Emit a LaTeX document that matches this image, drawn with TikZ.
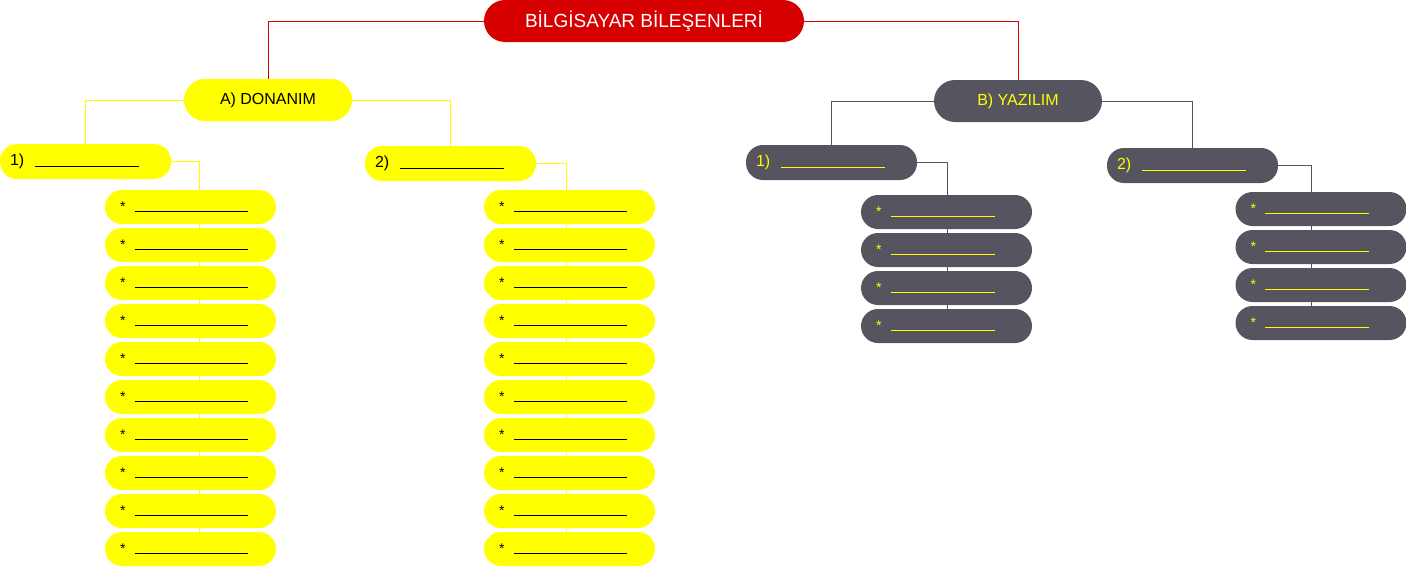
\documentclass[tikz,border=0pt]{standalone}
\usepackage{fontspec}
\setmainfont{Liberation Sans}
\usetikzlibrary{backgrounds}
\definecolor{kirmizi}{HTML}{D60000}
\definecolor{sari}{HTML}{FFFF00}
\definecolor{gri}{HTML}{55545F}
\newcommand{\bosluk}[1]{\rule[-1pt]{#1pt}{1pt}}

\begin{document}
\begin{tikzpicture}[x=1pt, y=-1pt]
	\tikzstyle{kutu}=[rounded corners=17pt, inner sep=0pt, font=\fontsize{16}{16}\selectfont]
	\tikzstyle{baslik}=[kutu, fill=kirmizi, text=white, minimum width=320pt, minimum height=42pt, rounded corners=21pt, font=\fontsize{19}{19}\selectfont]
	\tikzstyle{donanim}=[kutu, fill=sari, text=black]
	\tikzstyle{yazilim}=[kutu, fill=gri, text=sari]
	\tikzstyle{ana}=[minimum width=168pt, minimum height=42pt, rounded corners=21pt]
	\tikzstyle{alt}=[minimum width=171pt, minimum height=35pt, text width=151pt, align=left]
	\tikzstyle{madde}=[minimum width=171pt, minimum height=34pt, text width=141pt, align=left, font=\fontsize{14}{14}\selectfont]
	\useasboundingbox (0,0) rectangle (1406,568);

	% KOK
	\node[baslik] (kok) at (644,21) {BİLGİSAYAR BİLEŞENLERİ};

	% DONANIM
	\node[donanim,ana] (A) at (268,100) {A) DONANIM};
	\node[donanim,alt] (A1) at (85.5,161.5) {1)~~\bosluk{104}};
	\node[donanim,alt] (A2) at (450.5,163.5) {2)~~\bosluk{104}};
	\foreach \i in {1,...,10} {
		\node[donanim,madde] (A1m\i) at (190.5,{169+38*\i}) {*~~\bosluk{113}};
		\node[donanim,madde] (A2m\i) at (569.5,{169+38*\i}) {*~~\bosluk{113}};
	}

	% YAZILIM
	\node[yazilim,ana] (B) at (1018,101) {B) YAZILIM};
	\node[yazilim,alt] (B1) at (831.5,162.5) {1)~~\color{sari}\bosluk{104}};
	\node[yazilim,alt] (B2) at (1192.5,165.5) {2)~~\color{sari}\bosluk{104}};
	\foreach \i in {1,...,4} {
		\node[yazilim,madde] (B1m\i) at (946.5,{174+38*\i}) {*~~\color{sari}\bosluk{104}};
		\node[yazilim,madde] (B2m\i) at (1321,{171+38*\i}) {*~~\color{sari}\bosluk{104}};
	}

	% BAGLANTILAR
	\begin{scope}[on background layer, line width=3pt]
		\draw[kirmizi] (kok.west) -| (A.north);
		\draw[kirmizi] (kok.east) -| (B.north);
		\draw[sari] (A.west) -| (A1.north);
		\draw[sari] (A.east) -| (A2.north);
		\draw[sari] (A1.east) -| (A1m10.center -| 199,0);
		\draw[sari] (A2.east) -| (A2m10.center -| 566,0);
		\draw[gri] (B.west) -| (B1.north);
		\draw[gri] (B.east) -| (B2.north);
		\draw[gri] (B1.east) -| (B1m4.center -| 947,0);
		\draw[gri] (B2.east) -| (B2m4.center -| 1311,0);
	\end{scope}
\end{tikzpicture}
\end{document}
